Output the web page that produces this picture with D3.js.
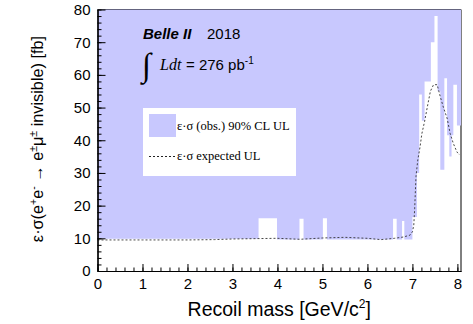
<!DOCTYPE html>
<html>
<head>
<meta charset="utf-8">
<script src="https://cdn.jsdelivr.net/npm/d3@7"></script>
<style>
  body { margin: 0; background: #fff; }
  svg { display: block; }
</style>
</head>
<body>
<div id="chart"></div>
<script>
// observed 90% CL upper limit, as a step histogram (bin edges + one value per bin)
const obsEdges = [0, 3.58, 3.99, 4.49, 4.58, 5.01, 5.10, 6.57, 6.65, 6.77, 6.82, 7.00, 7.10, 7.15, 7.21, 7.27,
                  7.41, 7.49, 7.56, 7.62, 7.71, 7.77, 7.82, 7.87, 7.91, 7.99, 8.08];
const obsValues = [9.9, 16.1, 9.6, 16.0, 9.6, 16.1, 9.6, 16.0, 9.6, 15.3, 9.6, 16.5, 30, 54, 46,
                   58, 70, 78, 55, 31, 59, 41.5, 35, 41.5, 57, 44.5];

// expected upper limit (dashed)
const expX = [0, 1, 2, 2.6, 3.0, 3.5, 4.0, 4.5, 5.0, 5.5, 6.0, 6.3, 6.6, 6.8, 6.95, 7.0, 7.03, 7.05, 7.08,
              7.12, 7.17, 7.21, 7.27, 7.34, 7.40, 7.47, 7.55, 7.62, 7.69, 7.77, 7.84, 7.91, 7.99, 8.05];
const expY = [9.5, 9.5, 9.5, 9.6, 9.8, 9.9, 10.0, 9.7, 10.1, 10.3, 10.0, 9.6, 10.0, 10.4, 11, 12, 14, 19, 29,
              34, 38, 42, 45.7, 50.8, 55, 57, 57, 53.3, 50, 46.8, 42, 39, 36.4, 35.5];

const xTicks = [0, 1, 2, 3, 4, 5, 6, 7, 8];
const yTicks = [0, 10, 20, 30, 40, 50, 60, 70, 80];

const width = 473;
const height = 324;
const fillColor = "#c8c8fe";
const sans = "'Liberation Sans', Arial, Helvetica, sans-serif";
const serif = "'Liberation Serif', 'Times New Roman', serif";

const x = d3.scaleLinear().domain([0, 8.08]).range([97.5, 461]);
const y = d3.scaleLinear().domain([0, 80]).range([271, 9.5]);

const svg = d3.select("#chart").append("svg")
    .attr("width", width)
    .attr("height", height);

// top + right frame (the fill partly covers them, like the original)
svg.append("path")
    .attr("d", `M${x(0)},${y(80)}H${x(8.08)}V${y(0)}`)
    .attr("fill", "none")
    .attr("stroke", "#000")
    .attr("stroke-width", 1);

// filled region: from the observed limit up to the top
const obsPts = obsEdges.map((e, i) => ({ x: e, v: obsValues[Math.min(i, obsValues.length - 1)] }));
svg.append("path")
    .datum(obsPts)
    .attr("fill", fillColor)
    .attr("d", d3.area()
        .curve(d3.curveStepAfter)
        .x(d => x(d.x))
        .y0(y(80))
        .y1(d => y(d.v)));

// expected limit
svg.append("path")
    .datum(expX.map((v, i) => [v, expY[i]]))
    .attr("fill", "none")
    .attr("stroke", "#333")
    .attr("stroke-width", 0.9)
    .attr("stroke-dasharray", "2,2")
    .attr("d", d3.line().x(d => x(d[0])).y(d => y(d[1])));

// axes, ticks pointing inward
svg.append("g")
    .attr("transform", `translate(0,${y(0)})`)
    .call(d3.axisBottom(x).tickValues(xTicks).tickSize(-7).tickSizeOuter(0).tickPadding(7));
svg.append("g")
    .attr("transform", `translate(0,${y(0)})`)
    .call(d3.axisBottom(x).tickValues(d3.range(0, 8.01, 0.2)).tickSize(-3.5).tickSizeOuter(0).tickFormat(""));

svg.append("g")
    .attr("transform", `translate(${x(0)},0)`)
    .call(d3.axisLeft(y).tickValues(yTicks).tickSize(-8).tickSizeOuter(0).tickPadding(7));
svg.append("g")
    .attr("transform", `translate(${x(0)},0)`)
    .call(d3.axisLeft(y).tickValues(d3.range(0, 80.1, 2)).tickSize(-4).tickSizeOuter(0).tickFormat(""));

svg.selectAll(".domain").attr("stroke", "#000").attr("stroke-width", 1.2);
svg.selectAll(".tick line").attr("stroke", "#000");
svg.selectAll(".tick text")
    .attr("font-family", sans)
    .attr("font-size", 15)
    .attr("fill", "#000");

// axis titles
svg.append("text")
    .attr("x", (x(0) + x(8.08)) / 2)
    .attr("y", 316)
    .attr("text-anchor", "middle")
    .attr("font-family", sans)
    .attr("font-size", 19.5)
    .call(t => {
        t.append("tspan").text("Recoil mass [GeV/c");
        t.append("tspan").attr("dy", -8).attr("font-size", 12).text("2");
        t.append("tspan").attr("dy", 8).text("]");
    });

const yl = svg.append("text")
    .attr("transform", "translate(43,139) rotate(-90)")
    .attr("text-anchor", "middle")
    .attr("font-family", sans)
    .attr("font-size", 16.3);
const sup = (s) => {
    yl.append("tspan").attr("dy", -6).attr("font-size", 10.5).text(s);
};
const norm = (s) => {
    yl.append("tspan").attr("dy", 6).text(s);
};
yl.append("tspan").text("ε·σ(e");
sup("+");
norm("e");
sup("-");
norm(" → e");
sup("±");
norm("μ");
sup("±");
norm(" invisible) [fb]");

// experiment label
svg.append("text")
    .attr("x", 143).attr("y", 39)
    .attr("font-family", sans).attr("font-size", 15)
    .attr("font-weight", "bold").attr("font-style", "italic")
    .text("Belle II");
svg.append("text")
    .attr("x", 207).attr("y", 39)
    .attr("font-family", sans).attr("font-size", 15)
    .text("2018");
svg.append("text")
    .attr("x", 142).attr("y", 76)
    .attr("font-family", serif).attr("font-size", 33)
    .text("∫");
svg.append("text")
    .attr("x", 160).attr("y", 70)
    .attr("font-family", serif).attr("font-size", 16).attr("font-style", "italic")
    .text("Ldt");
svg.append("text")
    .attr("x", 186).attr("y", 70)
    .attr("font-family", sans).attr("font-size", 15)
    .call(t => {
        t.append("tspan").text("= 276 pb");
        t.append("tspan").attr("dy", -6).attr("font-size", 10).text("-1");
    });

// legend
const lg = svg.append("g");
lg.append("rect")
    .attr("x", 143).attr("y", 108).attr("width", 153).attr("height", 68)
    .attr("fill", "#fff");
lg.append("rect")
    .attr("x", 149).attr("y", 114).attr("width", 27).attr("height", 23)
    .attr("fill", fillColor);
lg.append("text")
    .attr("x", 177).attr("y", 130)
    .attr("font-family", serif).attr("font-size", 12.5)
    .text("ε·σ (obs.) 90% CL UL");
lg.append("line")
    .attr("x1", 149).attr("x2", 175).attr("y1", 156.5).attr("y2", 156.5)
    .attr("stroke", "#222").attr("stroke-dasharray", "2,2");
lg.append("text")
    .attr("x", 177).attr("y", 160)
    .attr("font-family", serif).attr("font-size", 12.5)
    .text("ε·σ expected UL");
</script>
</body>
</html>
